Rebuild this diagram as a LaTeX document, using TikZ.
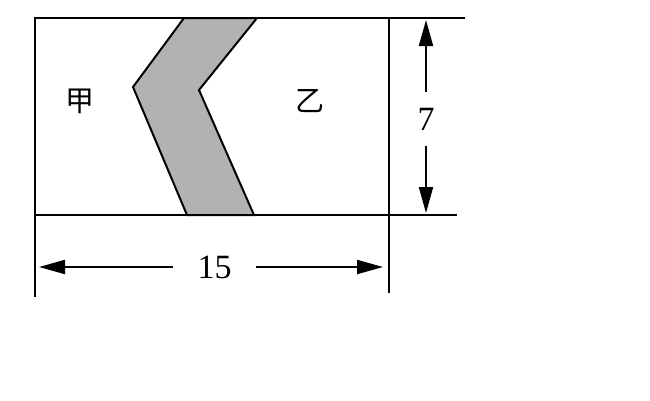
\documentclass[tikz,border=0pt]{standalone}
\usepackage{fontspec}
\setmainfont{Liberation Serif}
\newfontfamily\cjk{Noto Sans CJK SC}
\usetikzlibrary{arrows.meta}
\begin{document}
\begin{tikzpicture}[x=1pt,y=-1pt,
  edge/.style={line width=2pt,black},
  band/.style={line width=2pt,draw=black,fill={rgb,255:red,178;green,178;blue,178},line join=miter},
  dimarrow/.style={line width=2pt,-{Triangle[length=26pt,width=14pt]}},
  num/.style={font=\fontsize{34}{34}\selectfont,inner sep=0pt},
  hz/.style={font=\cjk\fontsize{29}{29}\selectfont,inner sep=0pt}]
\useasboundingbox (0,0) rectangle (650,400);
% band
\draw[band] (184,18) -- (133,87) -- (187,215) -- (254,215) -- (199,90) -- (257,18) -- cycle;
% frame lines
\draw[edge] (34,18) -- (465,18);
\draw[edge] (35,215) -- (457,215);
\draw[edge] (35,18) -- (35,297);
\draw[edge] (389,18) -- (389,293);
% labels
\node[hz] (jia) at (79.5,101) {甲};
\node[hz] (yi) at (309.5,101.5) {乙};
\node[num,minimum height=54pt] (seven) at (426,119) {\raisebox{-4pt}{7}};
\node[num,minimum width=83pt] (fifteen) at (214.5,267) {15};
% dimension arrows
\coordinate (t7) at (426,20);
\coordinate (b7) at (426,213);
\coordinate (l15) at (39,267);
\coordinate (r15) at (383,267);
\draw[dimarrow] (seven.north) -- (t7);
\draw[dimarrow] (seven.south) -- (b7);
\draw[dimarrow] (fifteen.west) -- (l15);
\draw[dimarrow] (fifteen.east) -- (r15);
\end{tikzpicture}
\end{document}
